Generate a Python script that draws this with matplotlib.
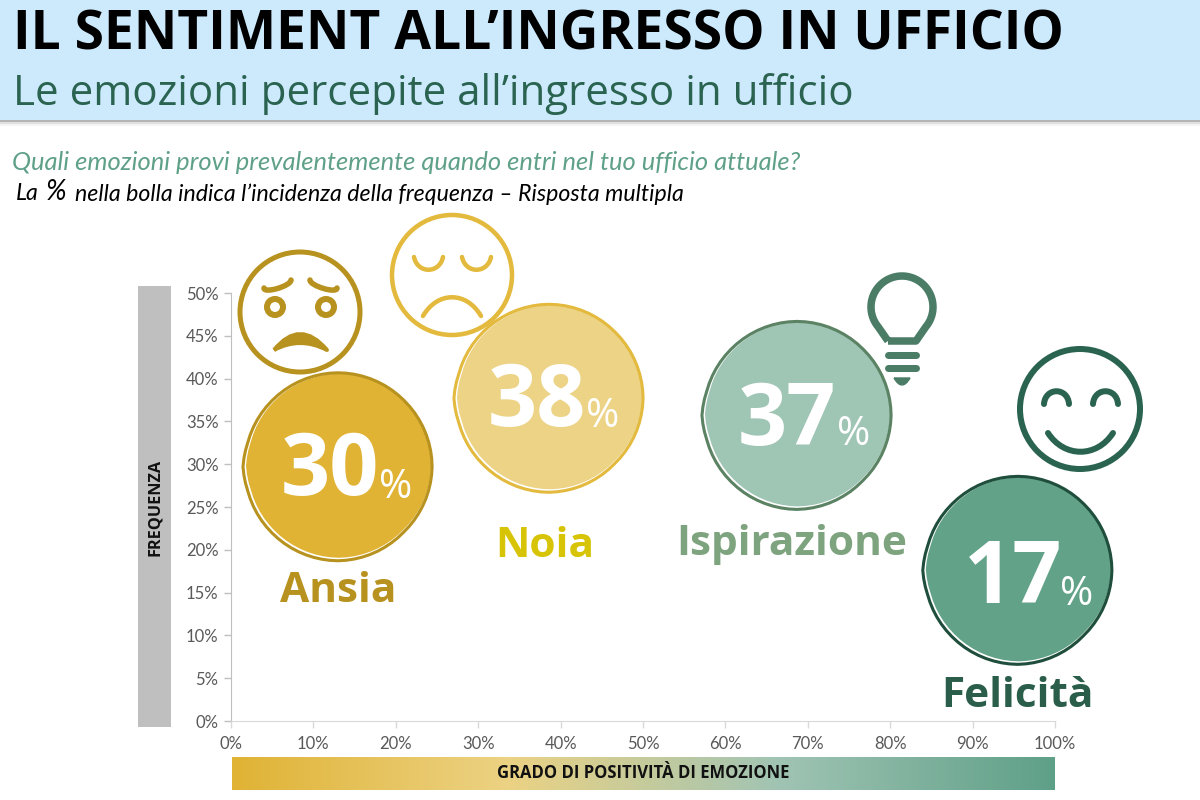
import os
os.environ.setdefault('MPLBACKEND', 'Agg')
import matplotlib.pyplot as plt
import numpy as np
from matplotlib.colors import LinearSegmentedColormap
from matplotlib.markers import MarkerStyle
from matplotlib.patches import Circle, PathPatch, Rectangle
from matplotlib.path import Path
from matplotlib.transforms import ScaledTranslation

# Chart values
emotions = ["Ansia", "Noia", "Ispirazione", "Felicità"]
positivity = [13.0, 38.6, 68.7, 95.5]
frequency = [29.7, 37.7, 35.7, 17.6]
pct_labels = ["30", "38", "37", "17"]

x_ticks = list(range(0, 101, 10))
y_ticks = list(range(0, 51, 5))

# Colours
fill_colors = ["#e0b335", "#ecd386", "#9fc5b5", "#62a288"]
edge_colors = ["#b8921f", "#e3ba3d", "#5a8263", "#1f4f3c"]
label_colors = ["#b8921f", "#d8c406", "#7ea47f", "#2a5e4a"]
gradient_colors = ["#e0b335", "#ecd283", "#a0c4b4", "#5fa088"]
header_blue = "#cdeafd"
dark_green = "#2a6350"
bulb_green = "#4a7c66"
soft_green = "#5fa088"
anx_gold = "#b8921f"
sad_gold = "#e3ba3d"

plt.rcParams['font.family'] = ['Lato', 'DejaVu Sans']
PX = 0.72  # one pixel in points at dpi 100

fig = plt.figure(figsize=(12, 8), dpi=100, facecolor="white")

# Background layer in pixel coordinates: header, side bars, icons
bg = fig.add_axes([0, 0, 1, 1])
bg.set_xlim(0, 1200)
bg.set_ylim(800, 0)
bg.axis("off")


def arc(x0, y0, x1, y1, h, color, lw, w=0.0):
    # round stroke between two points, bulging by 0.75*h (up when h > 0)
    dx = (x1 - x0) * w
    path = Path([(x0, y0), (x0 + dx, y0 - h), (x1 - dx, y1 - h), (x1, y1)],
                [Path.MOVETO, Path.CURVE4, Path.CURVE4, Path.CURVE4])
    bg.add_patch(PathPatch(path, fc="none", ec=color, lw=lw * PX, capstyle="round"))


def ring(cx, cy, r, color, lw):
    bg.add_patch(Circle((cx, cy), r, fc="white", ec=color, lw=lw * PX))


bg.add_patch(Rectangle((0, 0), 1200, 120, fc=header_blue, ec="none"))
bg.add_patch(Rectangle((0, 120), 1200, 2, fc="#b5b5b5", ec="none"))
bg.add_patch(Rectangle((0, 122), 1200, 2, fc="#e0e0e0", ec="none"))
bg.add_patch(Rectangle((0, 124), 1200, 2, fc="#f4f4f4", ec="none"))
bg.text(13, 35, "IL SENTIMENT ALL’INGRESSO IN UFFICIO", fontsize=38.4, fontweight="bold",
        family="Open Sans", color="black", va="center", ha="left")
bg.text(13, 94, "Le emozioni percepite all’ingresso in ufficio", fontsize=30.3,
        family="Open Sans", color=dark_green, va="center", ha="left")
bg.text(12, 163, "Quali emozioni provi prevalentemente quando entri nel tuo ufficio attuale?",
        fontsize=18.4, style="italic", color=soft_green, va="center", ha="left")
bg.text(16, 194, "La", fontsize=16.7, style="italic", color="black", va="center", ha="left")
bg.text(46, 192, "%", fontsize=20, style="italic", color="black", va="center", ha="left")
bg.text(75, 194, "nella bolla indica l’incidenza della frequenza – Risposta multipla",
        fontsize=16.7, style="italic", color="black", va="center", ha="left")

bg.add_patch(Rectangle((138, 286), 33, 441, fc="#bfbfbf", ec="none"))
bg.text(155, 507, "FREQUENZA", rotation=90, fontsize=11.7, fontweight="bold", color="#111111",
        family="Open Sans", va="center", ha="center")

grad = LinearSegmentedColormap.from_list("positivity", gradient_colors)
bg.imshow(np.linspace(0, 1, 400).reshape(1, -1), cmap=grad, aspect="auto",
          extent=(232, 1055, 790, 757), zorder=1)
bg.set_xlim(0, 1200)
bg.set_ylim(800, 0)
bg.text(643, 773, "GRADO DI POSITIVITÀ DI EMOZIONE", fontsize=12, fontweight="bold",
        color="#111111", family="Open Sans", va="center", ha="center", zorder=2)

# Anxious face
ring(300, 312, 60, anx_gold, 5)
arc(264, 288, 291, 280, -6, anx_gold, 5.5)
arc(310, 280, 337, 288, -6, anx_gold, 5.5)
ring(275, 307, 8, anx_gold, 6)
ring(326, 307, 8, anx_gold, 6)
mouth = Path([(274, 350), (300, 318), (327, 350), (300, 336), (274, 350)],
             [Path.MOVETO, Path.CURVE3, Path.CURVE3, Path.CURVE3, Path.CURVE3])
bg.add_patch(PathPatch(mouth, fc=anx_gold, ec=anx_gold, lw=4 * PX, joinstyle="round"))

# Sad face
ring(452, 275, 60, sad_gold, 4.5)
arc(414, 257, 443, 257, -17, sad_gold, 4.5, w=0.12)
arc(462, 257, 491, 257, -17, sad_gold, 4.5, w=0.12)
arc(423, 316, 481, 316, 25, sad_gold, 4.5, w=0.25)

# Light bulb
t = np.radians(np.linspace(220, -40, 60))
bulb_pts = [(888, 341)] + list(zip(902 + 31 * np.cos(t), 307 - 31 * np.sin(t))) + [(916, 341), (888, 341)]
bg.add_patch(PathPatch(Path(bulb_pts), fc="white", ec=bulb_green, lw=7.5 * PX, joinstyle="round"))
bg.plot([888, 916], [355, 355], color=bulb_green, lw=7 * PX, solid_capstyle="round")
bg.plot([888, 916], [368, 368], color=bulb_green, lw=7 * PX, solid_capstyle="round")
tip = Path([(894, 378), (902, 392), (910, 378), (894, 378)],
           [Path.MOVETO, Path.CURVE3, Path.CURVE3, Path.LINETO])
bg.add_patch(PathPatch(tip, fc=bulb_green, ec=bulb_green, lw=1))

# Happy face
ring(1080, 409, 60, dark_green, 6)
arc(1044, 404, 1069, 404, 17, dark_green, 6, w=0.05)
arc(1093, 404, 1118, 404, 17, dark_green, 6, w=0.05)
arc(1048, 433, 1113, 433, -25, dark_green, 6, w=0.25)

# Main chart
ax = fig.add_axes([231 / 1200, 1 - 721 / 800, 824 / 1200, 428 / 800])
ax.patch.set_alpha(0)
ax.set_xlim(0, 100)
ax.set_ylim(0, 50)
ax.set_xticks(x_ticks, [f"{v}%" for v in x_ticks])
ax.set_yticks(y_ticks, [f"{v}%" for v in y_ticks])
ax.tick_params(axis="both", labelsize=12, labelcolor="#595959", length=5, width=1)
ax.tick_params(axis="x", color="#d9d9d9", pad=6)
ax.tick_params(axis="y", color="#bfbfbf", pad=4)
ax.spines["top"].set_visible(False)
ax.spines["right"].set_visible(False)
ax.spines["left"].set_color("#bfbfbf")
ax.spines["bottom"].set_color("#d9d9d9")

# Hand-drawn looking bubble outline with a small corner on the left
blob_deg = [0, 45, 90, 135, 165, 180, 195, 225, 270, 315, 360]
blob_r = [1.0, 0.995, 1.0, 0.995, 0.995, 1.012, 0.995, 0.995, 1.0, 0.985, 1.0]
deg = np.arange(0, 360, 5)
rad = np.interp(deg, blob_deg, blob_r)
blob_xy = np.column_stack([rad * np.cos(np.radians(deg)), rad * np.sin(np.radians(deg))])
blob = MarkerStyle(Path(np.vstack([blob_xy, blob_xy[:1]]), closed=True))


def shifted(dx, dy):
    return ax.transData + ScaledTranslation(dx / 100, dy / 100, fig.dpi_scale_trans)


# Bubbles: white crescent, filled disc, sketched outline
ax.scatter(positivity, frequency, s=(186 * 1.012 * PX) ** 2, c="white", marker=blob, linewidths=0,
           clip_on=False, zorder=3, transform=shifted(-1, -1))
ax.scatter(positivity, frequency, s=(184 * 1.012 * PX) ** 2, c=fill_colors, marker=blob, linewidths=0,
           clip_on=False, zorder=3.1, transform=shifted(1, 1))
ax.scatter(positivity, frequency, s=(188 * 1.012 * PX) ** 2, facecolors="none", edgecolors=edge_colors,
           marker=blob, linewidths=2.2, clip_on=False, zorder=4)

# Text offsets from the bubble centre, in pixels (x right, y up)
number_dx = [-8, -12, -10, -5]
number_dy = [-6, -5, -7, -10]
pct_dx = [58, 54, 57, 59]
pct_dy = [-21, -18, -19, -24]
name_dx = [0, -4, -5, 0]
name_dy = [-125, -148, -129, -126]

for i, (x, y) in enumerate(zip(positivity, frequency)):
    ax.annotate(pct_labels[i], (x, y), xytext=(number_dx[i] * PX, number_dy[i] * PX),
                textcoords="offset points", fontsize=62, fontweight="bold", family="Open Sans",
                color="white", ha="center", va="center", zorder=5)
    ax.annotate("%", (x, y), xytext=(pct_dx[i] * PX, pct_dy[i] * PX), textcoords="offset points",
                fontsize=29, family="Open Sans", color="white", ha="center", va="center", zorder=5)
    ax.annotate(emotions[i], (x, y), xytext=(name_dx[i] * PX, name_dy[i] * PX),
                textcoords="offset points", fontsize=30.5, fontweight="bold", family="Open Sans",
                color=label_colors[i], ha="center", va="center", annotation_clip=False, zorder=5)

fig.savefig("out.png", dpi=100)
